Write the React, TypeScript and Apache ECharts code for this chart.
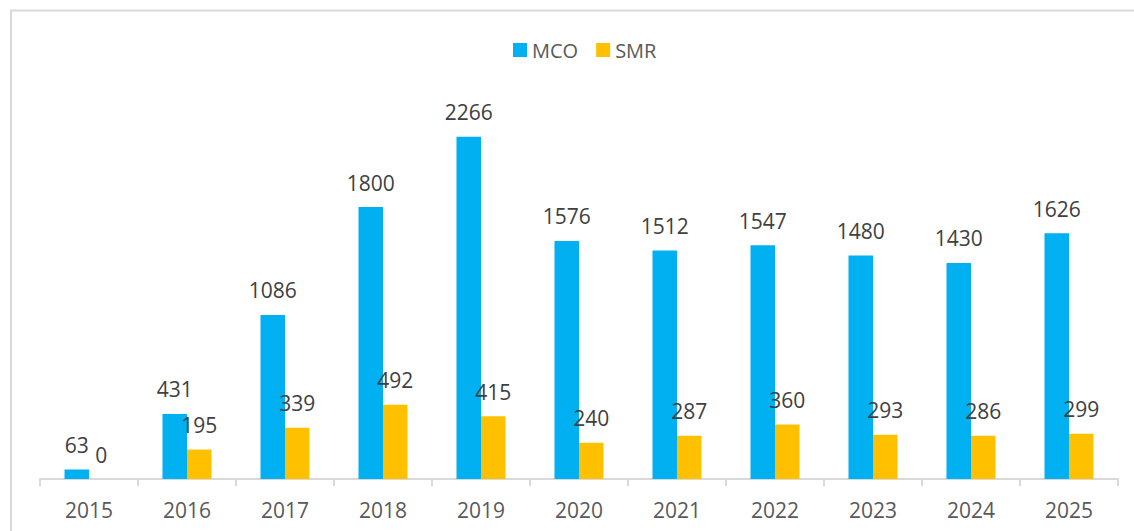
import React, { useEffect, useRef } from "react";
import * as echarts from "echarts";

const categories = ["2015", "2016", "2017", "2018", "2019", "2020", "2021", "2022", "2023", "2024", "2025"];
const mcoValues = [63, 431, 1086, 1800, 2266, 1576, 1512, 1547, 1480, 1430, 1626];
const smrValues = [0, 195, 339, 492, 415, 240, 287, 360, 293, 286, 299];

const FONT = "'Open Sans', 'Noto Sans', sans-serif";

export default function App() {
  const ref = useRef<HTMLDivElement>(null);
  useEffect(() => {
    if (!ref.current) return;
    const chart = echarts.init(ref.current, undefined, { renderer: "svg" });
    const labelCfg = {
      show: true,
      position: "top" as const,
      distance: 14,
      fontSize: 21,
      fontFamily: FONT,
      color: "#404040",
    };
    chart.setOption({
      animation: false,
      backgroundColor: "#ffffff",
      textStyle: { fontFamily: FONT },
      graphic: [
        {
          type: "rect",
          shape: { x: 11, y: 10.5, width: 1300, height: 700 },
          style: { fill: "none", stroke: "#d9d9d9", lineWidth: 2 },
          silent: true,
        },
      ],
      legend: {
        top: 35,
        left: 508,
        itemWidth: 14,
        itemHeight: 14,
        itemGap: 18,
        icon: "rect",
        textStyle: { fontSize: 20, color: "#595959", fontFamily: FONT },
        data: ["MCO", "SMR"],
      },
      grid: { left: 40, right: 16, top: 56, bottom: 52, containLabel: false },
      xAxis: {
        type: "category",
        data: categories,
        axisLine: { lineStyle: { color: "#d9d9d9", width: 2 } },
        axisTick: { show: true, length: 7, lineStyle: { color: "#d9d9d9", width: 2 } },
        axisLabel: { fontSize: 21, color: "#595959", margin: 20, fontFamily: FONT },
      },
      yAxis: {
        type: "value",
        min: 0,
        max: 2800,
        show: false,
        splitLine: { show: false },
      },
      series: [
        {
          name: "MCO",
          type: "bar",
          data: mcoValues,
          barGap: "0%",
          barCategoryGap: "50%",
          itemStyle: { color: "#00B0F0" },
          label: labelCfg,
        },
        {
          name: "SMR",
          type: "bar",
          data: smrValues,
          barGap: "0%",
          barCategoryGap: "50%",
          itemStyle: { color: "#FFC000" },
          label: labelCfg,
        },
      ],
    });
    return () => chart.dispose();
  }, []);
  return (
    <div
      ref={ref}
      style={{ position: "fixed", left: 0, top: 0, width: 1134, height: 531 }}
    />
  );
}
